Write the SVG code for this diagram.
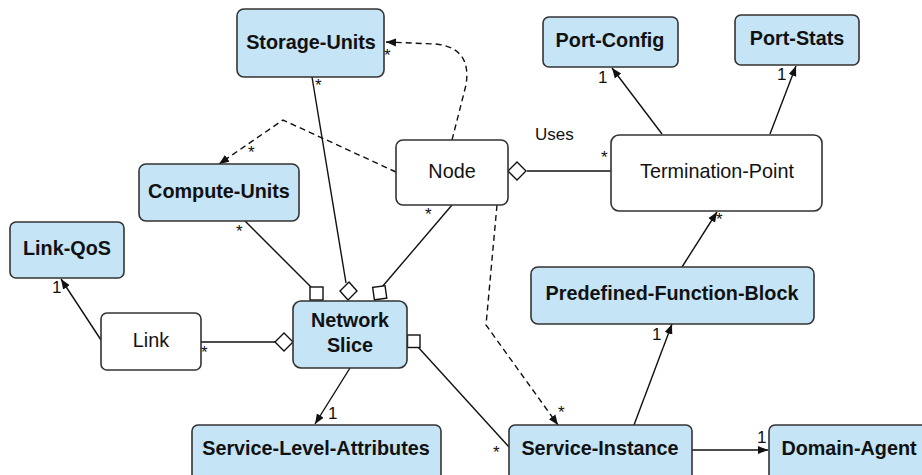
<svg xmlns="http://www.w3.org/2000/svg" width="922" height="475" viewBox="0 0 922 475">
<defs>
<style>
.c{fill:#c5e4f6;stroke:#333;stroke-width:1.6}
.w{fill:#fff;stroke:#333;stroke-width:1.6}
.b{font-family:"Liberation Sans",Arial,sans-serif;font-weight:bold;font-size:19.8px;fill:#111;text-anchor:middle}
.n{font-family:"Liberation Sans",Arial,sans-serif;font-size:19.8px;fill:#111;text-anchor:middle}
.m{font-family:"Liberation Sans",Arial,sans-serif;font-size:17px;fill:#111}
.l{fill:none;stroke:#111;stroke-width:1.4}
.d{fill:none;stroke:#111;stroke-width:1.4;stroke-dasharray:6 4}
.o{fill:#fff;stroke:#111;stroke-width:1.4}
</style>
<marker id="a" viewBox="0 0 10 10" refX="10" refY="5" markerWidth="10" markerHeight="10" markerUnits="userSpaceOnUse" orient="auto">
<path d="M0,1 L10,5 L0,9 Z" fill="#111"/>
</marker>
</defs>
<g id="connectors">
<line class="l" x1="312" y1="77" x2="346" y2="283"/>
<line class="l" x1="245" y1="221" x2="311" y2="287"/>
<line class="l" x1="452" y1="205" x2="382" y2="287"/>
<path class="d" d="M452,140 L466,85 Q472,48 436,44 L386,42" marker-end="url(#a)"/>
<path class="d" d="M396,172 L283,120 L219,164" marker-end="url(#a)"/>
<path class="d" d="M497,205 L486,325 L558,425" marker-end="url(#a)"/>
<line class="l" x1="527" y1="171" x2="611" y2="171"/>
<line class="l" x1="662" y1="134" x2="612" y2="68" marker-end="url(#a)"/>
<line class="l" x1="770" y1="134" x2="796" y2="66" marker-end="url(#a)"/>
<line class="l" x1="682" y1="267" x2="717" y2="212" marker-end="url(#a)"/>
<line class="l" x1="634" y1="425" x2="672" y2="324" marker-end="url(#a)"/>
<line class="l" x1="692" y1="450" x2="768" y2="450" marker-end="url(#a)"/>
<line class="l" x1="418" y1="347" x2="509" y2="447"/>
<line class="l" x1="350" y1="368" x2="315" y2="424" marker-end="url(#a)"/>
<line class="l" x1="200" y1="342" x2="276" y2="342"/>
<line class="l" x1="101" y1="340" x2="61" y2="279" marker-end="url(#a)"/>
<rect class="o" x="310" y="287" width="13" height="13"/>
<rect class="o" x="373.5" y="286.5" width="12.5" height="12.5" transform="rotate(-8 380 293)"/>
<rect class="o" x="407.5" y="335" width="12.5" height="12.5"/>
<path class="o" d="M349,282 L357,291 L348,300 L340,291 Z"/>
<path class="o" d="M293,342 L284,351 L275,342 L284,333 Z"/>
<path class="o" d="M508,171 L517,162 L526,171 L517,180 Z"/>
<text class="m" x="315" y="91">*</text>
<text class="m" x="236" y="237">*</text>
<text class="m" x="425" y="220">*</text>
<text class="m" x="384" y="61">*</text>
<text class="m" x="248" y="158">*</text>
<text class="m" x="558" y="418">*</text>
<text class="m" x="601" y="163">*</text>
<text class="m" x="716" y="225">*</text>
<text class="m" x="493" y="458">*</text>
<text class="m" x="201" y="358">*</text>
<text class="m" x="598" y="83">1</text>
<text class="m" x="777" y="80">1</text>
<text class="m" x="652" y="340">1</text>
<text class="m" x="757" y="443">1</text>
<text class="m" x="328" y="419">1</text>
<text class="m" x="52" y="293">1</text>
<text class="m" x="535" y="140">Uses</text>
</g>
<g id="storage-units"><rect class="c" x="237" y="9" width="147" height="68" rx="7"/><text class="b" x="311" y="49">Storage-Units</text></g>
<g id="compute-units"><rect class="c" x="139" y="164" width="160" height="57" rx="7"/><text class="b" x="219" y="198">Compute-Units</text></g>
<g id="node"><rect class="w" x="396" y="140" width="112" height="65" rx="7"/><text class="n" x="452" y="178">Node</text></g>
<g id="port-config"><rect class="c" x="543" y="17" width="135" height="50" rx="6"/><text class="b" x="610" y="47">Port-Config</text></g>
<g id="port-stats"><rect class="c" x="735" y="15" width="124" height="50" rx="6"/><text class="b" x="797" y="45">Port-Stats</text></g>
<g id="termination-point"><rect class="w" x="611" y="135" width="211" height="76" rx="8"/><text class="n" x="717" y="178">Termination-Point</text></g>
<g id="link-qos"><rect class="c" x="10" y="222" width="114" height="56" rx="6"/><text class="b" x="67" y="255">Link-QoS</text></g>
<g id="link"><rect class="w" x="101" y="313" width="100" height="57" rx="6"/><text class="n" x="151" y="347">Link</text></g>
<g id="network-slice"><rect class="c" x="293" y="301" width="114" height="67" rx="8"/><text class="b" x="350" y="327">Network</text><text class="b" x="350" y="352">Slice</text></g>
<g id="service-level-attributes"><rect class="c" x="192" y="425" width="249" height="56" rx="6"/><text class="b" x="316" y="455">Service-Level-Attributes</text></g>
<g id="predefined-function-block"><rect class="c" x="531" y="267" width="283" height="57" rx="7"/><text class="b" x="672" y="300">Predefined-Function-Block</text></g>
<g id="service-instance"><rect class="c" x="509" y="425" width="183" height="56" rx="6"/><text class="b" x="600" y="455">Service-Instance</text></g>
<g id="domain-agent"><rect class="c" x="769" y="425" width="170" height="56" rx="6"/><text class="b" x="849" y="455">Domain-Agent</text></g>
</svg>
